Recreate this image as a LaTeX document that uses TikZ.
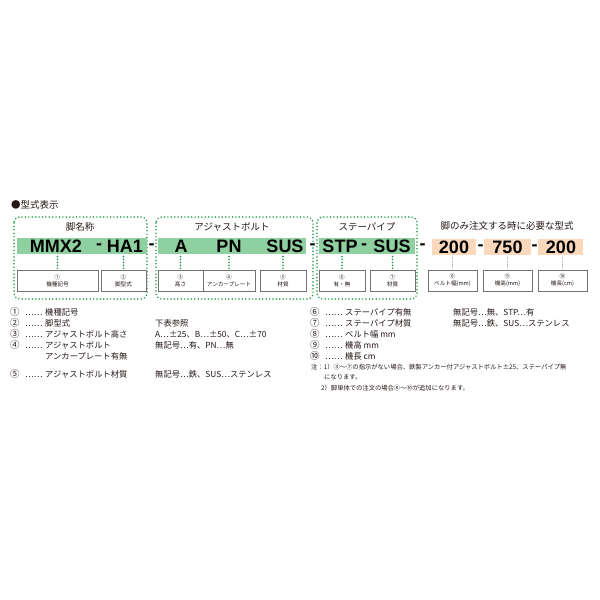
\documentclass[tikz,border=0pt]{standalone}
\usepackage{fontspec}
\setmainfont{Noto Sans CJK JP}
\newfontfamily\codefont{Liberation Sans}
\definecolor{dgreen}{HTML}{1E9A45}
\definecolor{bgreen}{HTML}{8FD0A0}
\definecolor{borange}{HTML}{FAD8BC}
\definecolor{txt}{HTML}{231815}
\tikzset{
  dotbox/.style={draw=dgreen, line width=1.7pt, dash pattern=on 0pt off 3.4pt, line cap=round, rounded corners=6pt},
  gbar/.style={fill=bgreen, draw=none, inner sep=0pt},
  obar/.style={fill=borange, draw=none, inner sep=0pt},
  code/.style={font=\codefont\bfseries\fontsize{18}{18}\selectfont, inner sep=0pt, text=black},
  lab/.style={draw=black!55, fill=white, line width=0.6pt, align=center, font=\fontsize{5.6}{6.8}\selectfont, inner sep=0pt, text=txt},
  conn/.style={draw=dgreen, line width=1.8pt, dash pattern=on 0pt off 2.9pt, line cap=round, shorten <=1.5pt, shorten >=1.5pt},
  gconn/.style={draw=black!45, line width=1pt, dash pattern=on 0pt off 1.8pt, line cap=round, shorten <=1.5pt, shorten >=1.5pt},
  head/.style={font=\fontsize{9.5}{10}\selectfont, inner sep=0pt, text=txt},
  li/.style={font=\fontsize{8.3}{9}\selectfont, inner sep=0pt, anchor=base west, text=txt},
  num/.style={font=\fontsize{9.5}{9}\selectfont, inner sep=0pt, anchor=base west, text=txt},
  note/.style={font=\fontsize{6.3}{7}\selectfont, inner sep=0pt, anchor=base west, text=txt},
}
\begin{document}
\begin{tikzpicture}[x=1pt,y=-1pt]
\useasboundingbox (0,0) rectangle (600,600);
% title
\node[font=\fontsize{9.5}{10}\selectfont, inner sep=0pt, anchor=west, text=txt] (title) at (11,205) {●型式表示};
% dotted group boxes
\draw[dotbox] (14,217) rectangle (147,299);
\draw[dotbox] (156,217) rectangle (313,299);
\draw[dotbox] (317,217) rectangle (417,299);
% headers
\node[head] (h1) at (80,227) {脚名称};
\node[head] (h2) at (232,227) {アジャストボルト};
\node[head] (h3) at (367,227) {ステーパイプ};
\node[head] (h4) at (507,226) {脚のみ注文する時に必要な型式};
% bars
\node[gbar, minimum width=130, minimum height=16] (bar1) at (81.5,246) {};
\node[gbar, minimum width=148, minimum height=16] (bar2) at (232,246) {};
\node[gbar, minimum width=96, minimum height=16] (bar3) at (367,246) {};
\node[obar, minimum width=44, minimum height=16] (bar4) at (454,247) {};
\node[obar, minimum width=47, minimum height=16] (bar5) at (507.5,247) {};
\node[obar, minimum width=45, minimum height=16] (bar6) at (560.5,247) {};
% codes
\node[code] (c1) at (56,246.5) {MMX2};
\node[code] (c2) at (99,246.5) {-};
\node[code] (c3) at (125,246.5) {HA1};
\node[code] (d1) at (151.5,246.5) {-};
\node[code] (c4) at (181,246.5) {A};
\node[code] (c5) at (229,246.5) {PN};
\node[code] (c6) at (285,246.5) {SUS};
\node[code] (d2) at (312.5,246.5) {-};
\node[code] (c7) at (340,246.5) {STP};
\node[code] (c8) at (364,246.5) {-};
\node[code] (c9) at (392,246.5) {SUS};
\node[code] (d3) at (422.5,246.5) {-};
\node[code] (c10) at (454,247.5) {200};
\node[code] (d4) at (480.5,247.5) {-};
\node[code] (c11) at (507.5,247.5) {750};
\node[code] (d5) at (534.5,247.5) {-};
\node[code] (c12) at (561,247.5) {200};
% label boxes
\node[lab, minimum width=81, minimum height=21] (l1) at (57.5,280.5) {①\\機種記号};
\node[lab, minimum width=45, minimum height=21] (l2) at (123.5,280.5) {②\\脚型式};
\node[lab, minimum width=45, minimum height=21] (l3) at (180.5,280.5) {③\\高さ};
\node[lab, minimum width=52, minimum height=21] (l4) at (229,280.5) {④\\アンカープレート};
\node[lab, minimum width=46, minimum height=21] (l5) at (283,280.5) {⑤\\材質};
\node[lab, minimum width=46, minimum height=21] (l6) at (342,280.5) {⑥\\有・無};
\node[lab, minimum width=45, minimum height=21] (l7) at (392.5,280.5) {⑦\\材質};
\node[lab, minimum width=49, minimum height=21] (l8) at (452.5,280.5) {⑧\\ベルト幅(mm)};
\node[lab, minimum width=49, minimum height=21] (l9) at (507.5,280.5) {⑨\\機高(mm)};
\node[lab, minimum width=49, minimum height=21] (l10) at (562.5,280.5) {⑩\\機長(cm)};
% connectors
\draw[conn] (l1.north) -- (l1.north |- bar1.south);
\draw[conn] (l2.north) -- (l2.north |- bar1.south);
\draw[conn] (l3.north) -- (l3.north |- bar2.south);
\draw[conn] (l4.north) -- (l4.north |- bar2.south);
\draw[conn] (l5.north) -- (l5.north |- bar2.south);
\draw[conn] (l6.north) -- (l6.north |- bar3.south);
\draw[conn] (l7.north) -- (l7.north |- bar3.south);
\draw[gconn] (l8.north) -- (l8.north |- bar4.south);
\draw[gconn] (l9.north) -- (l9.north |- bar5.south);
\draw[gconn] (l10.north) -- (l10.north |- bar6.south);
% left list
\node[num] (n1) at (10,315) {①};  \node[li] (e1) at (25,315) {……}; \node[li] (t1) at (45,315) {機種記号};
\node[num] (n2) at (10,326) {②};  \node[li] (e2) at (25,326) {……}; \node[li] (t2) at (45,326) {脚型式};
\node[li] (v2) at (155,326) {下表参照};
\node[num] (n3) at (10,337) {③};  \node[li] (e3) at (25,337) {……}; \node[li] (t3) at (45,337) {アジャストボルト高さ};
\node[li] (v3) at (155,337) {A…±25、B…±50、C…±70};
\node[num] (n4) at (10,348) {④};  \node[li] (e4) at (25,348) {……}; \node[li] (t4) at (45,348) {アジャストボルト};
\node[li] (v4) at (155,348) {無記号…有、PN…無};
\node[li] (t4b) at (45,359) {アンカープレート有無};
\node[num] (n5) at (10,377) {⑤};  \node[li] (e5) at (25,377) {……}; \node[li] (t5) at (45,377) {アジャストボルト材質};
\node[li] (v5) at (155,377) {無記号…鉄、SUS…ステンレス};
% right list
\node[num] (n6) at (310,315) {⑥};  \node[li] (e6) at (325,315) {……}; \node[li] (t6) at (345,315) {ステーパイプ有無};
\node[li] (v6) at (453,315) {無記号…無、STP…有};
\node[num] (n7) at (310,326) {⑦};  \node[li] (e7) at (325,326) {……}; \node[li] (t7) at (345,326) {ステーパイプ材質};
\node[li] (v7) at (453,326) {無記号…鉄、SUS…ステンレス};
\node[num] (n8) at (310,337) {⑧};  \node[li] (e8) at (325,337) {……}; \node[li] (t8) at (345,337) {ベルト幅 mm};
\node[num] (n9) at (310,348) {⑨};  \node[li] (e9) at (325,348) {……}; \node[li] (t9) at (345,348) {機高 mm};
\node[num] (n10) at (310,359) {⑩}; \node[li] (e10) at (325,359) {……}; \node[li] (t10) at (345,359) {機長 cm};
% notes
\node[note] (m1) at (311,369) {注：1）③〜⑦の指示がない場合、鉄製アンカー付アジャストボルト±25、ステーパイプ無};
\node[note] (m2) at (324,379) {になります。};
\node[note] (m3) at (321,390) {2）脚単体での注文の場合⑧〜⑩が追加になります。};
\end{tikzpicture}
\end{document}
